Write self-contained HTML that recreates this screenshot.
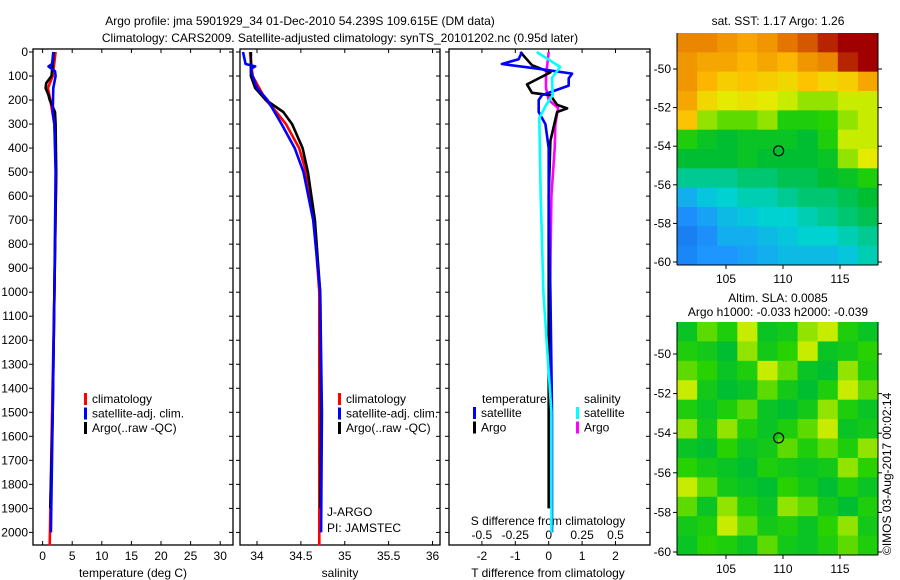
<!DOCTYPE html>
<html><head><meta charset="utf-8"><style>
body{margin:0;background:#fff}
svg{display:block;font-family:"Liberation Sans",sans-serif}
text{font-size:12px;fill:#000}
</style></head><body>
<svg id="c" width="900" height="580">
<text x="300" y="25" text-anchor="middle">Argo profile: jma 5901929_34 01-Dec-2010 54.239S 109.615E (DM data)</text>
<text x="340" y="42" text-anchor="middle">Climatology: CARS2009. Satellite-adjusted climatology: synTS_20101202.nc (0.95d later)</text>
<text x="778" y="25" text-anchor="middle">sat. SST: 1.17 Argo: 1.26</text>
<text x="778" y="302" text-anchor="middle">Altim. SLA: 0.0085</text>
<text x="778" y="316" text-anchor="middle">Argo h1000: -0.033 h2000: -0.039</text>
<text transform="translate(891,555) rotate(-90)">©IMOS 03-Aug-2017 00:02:14</text>
<g id="g"></g>
</svg>
<script>
// ---- data ----
const depthTicks=[0,100,200,300,400,500,600,700,800,900,1000,1100,1200,1300,1400,1500,1600,1700,1800,1900,2000];
const tempTicks=[0,5,10,15,20,25,30];
const salTicks=[34,34.5,35,35.5,36];
const tdTicks=[-2,-1,0,1,2];
const sdTicks=[-0.5,-0.25,0,0.25,0.5];
const tArgoD=[0,50,100,130,150,180,200,250,300,500,1000,1500,1900];
const tArgoV=[1.9,1.7,1.5,0.6,0.5,1.0,1.2,2.1,2.2,2.3,2.0,1.7,1.3];
const tClimD=[0,100,150,200,300,500,1000,1500,2055];
const tClimV=[2.2,1.7,0.9,1.3,2.0,2.3,2.0,1.6,1.2];
const tSatD=[0,50,60,80,100,150,250,300,500,1000,1500,2000];
const tSatV=[1.8,1.6,1.0,2.1,2.2,1.8,1.7,2.0,2.2,2.0,1.7,1.4];
const sArgoD=[0,100,150,200,250,300,400,500,700,900,1000,1500,1900];
const sArgoV=[33.93,33.93,33.98,34.10,34.30,34.40,34.52,34.58,34.66,34.70,34.72,34.73,34.72];
const sClimD=[0,100,200,250,300,400,500,700,1000,2055];
const sClimV=[33.92,33.95,34.10,34.22,34.33,34.48,34.56,34.65,34.71,34.71];
const sSatD=[0,50,60,70,100,150,200,300,400,500,700,1000,1500,2000];
const sSatV=[33.84,33.87,33.98,33.93,33.95,34.0,34.12,34.28,34.43,34.53,34.64,34.72,34.74,34.73];
const dtSatD=[0,30,50,70,90,110,140,160,180,200,250,300,400,600,1000,1500,2000];
const dtSatV=[-0.8,-0.9,-1.4,-0.3,0.7,0.6,0.6,0.2,-0.2,-0.3,-0.3,-0.1,0,0,0.05,0.1,0.1];
const dtArgoD=[0,55,85,135,170,180,220,235,250,280,370,600,1000,1500,1900];
const dtArgoV=[-0.85,-0.5,0.05,-0.65,-0.5,0.05,0.25,0.55,0.25,0.2,0.05,0,0,0,0];
const dsSatD=[0,62,108,179,221,275,600,1000,1500,2000];
const dsSatV=[-0.09,0.085,0.025,0.03,-0.02,-0.07,-0.06,-0.04,0.02,0.02];
const dsArgoD=[0,100,150,200,233,300,400,600,1000,1500,1900];
const dsArgoV=[0,-0.02,-0.02,0,0.07,0.05,0.045,0.02,0.01,0.01,0.01];
const sstGrid=[
[.82,.82,.80,.78,.80,.84,.88,.95,1,1],
[.80,.78,.78,.76,.78,.76,.80,.82,.95,1],
[.80,.76,.72,.74,.72,.70,.74,.70,.72,.78],
[.78,.70,.66,.68,.66,.64,.62,.62,.64,.64],
[.74,.62,.60,.60,.62,.56,.56,.58,.62,.64],
[.56,.52,.50,.52,.52,.52,.50,.56,.64,.64],
[.50,.50,.50,.52,.50,.50,.50,.52,.62,.66],
[.44,.44,.44,.46,.46,.48,.48,.50,.52,.56],
[.34,.38,.40,.42,.42,.44,.46,.46,.48,.50],
[.28,.32,.36,.38,.40,.40,.42,.44,.46,.48],
[.24,.28,.34,.34,.36,.38,.40,.40,.42,.44],
[.26,.30,.30,.32,.34,.36,.36,.36,.38,.42]];
const slaGrid=[
[.52,.60,.56,.64,.52,.54,.62,.64,.56,.52],
[.56,.54,.50,.62,.54,.58,.64,.52,.54,.58],
[.60,.58,.52,.56,.64,.60,.52,.50,.62,.56],
[.64,.54,.50,.52,.60,.54,.50,.56,.64,.60],
[.56,.52,.56,.60,.52,.50,.54,.62,.56,.52],
[.62,.54,.62,.56,.52,.56,.60,.64,.52,.54],
[.52,.50,.58,.52,.54,.60,.56,.60,.56,.62],
[.58,.54,.52,.50,.56,.54,.52,.54,.62,.58],
[.64,.60,.54,.52,.50,.58,.54,.50,.56,.52],
[.60,.52,.62,.56,.52,.62,.60,.54,.50,.56],
[.54,.56,.64,.60,.54,.56,.52,.58,.62,.54],
[.52,.58,.56,.52,.60,.54,.52,.56,.60,.56]];
const latTicks=[-50,-52,-54,-56,-58,-60];
const lonTicks=[105,110,115];
const floatLon=109.615, floatLat=-54.239;

// ---- drawing ----
const NS='http://www.w3.org/2000/svg', G=document.getElementById('g');
function mk(t,a,p){const e=document.createElementNS(NS,t);for(const k in a)e.setAttribute(k,a[k]);(p||G).appendChild(e);return e;}
const yD=d=>52+d*0.2402;
const xT=v=>42.6+v*5.92, xS=v=>257+(v-34)*87.75, xDT=v=>548.7+v*33.4, xDS=v=>548.7+v*133.6;
const P=[{x0:33,x1:233},{x0:240,x1:440},{x0:449,x1:650}];
const pTop=49,pBot=545;
P.forEach((p,i)=>{
  const r=mk('rect',{x:p.x0,y:pTop,width:p.x1-p.x0,height:pBot-pTop,fill:'none',stroke:'#000','stroke-width':1.3});
  
  
  depthTicks.forEach(d=>{const y=yD(d);
    mk('line',{x1:p.x0,x2:p.x0-4,y1:y,y2:y,stroke:'#000'});
    mk('line',{x1:p.x1,x2:p.x1-4,y1:y,y2:y,stroke:'#000'});});
});
depthTicks.forEach(d=>{const t=mk('text',{x:28,y:yD(d)+4,'text-anchor':'end'});t.textContent=d;
  });
function xticks(arr,f,y){arr.forEach(v=>{const x=f(v);
  mk('line',{x1:x,x2:x,y1:pBot,y2:pBot-4,stroke:'#000'});mk('line',{x1:x,x2:x,y1:pTop,y2:pTop+4,stroke:'#000'});
  const t=mk('text',{x:x,y:y,'text-anchor':'middle'});t.textContent=v;
  });}
xticks(tempTicks,xT,560);
xticks(salTicks,xS,560);
xticks(tdTicks,xDT,560);
sdTicks.forEach(v=>{const t=mk('text',{x:xDS(v),y:539,'text-anchor':'middle'});t.textContent=v;
  });
[['temperature (deg C)',133,'temp-axis-title'],['salinity',340,'salinity-axis-title'],['T difference from climatology',548,'tdiff-axis-title']].forEach(a=>{
  const t=mk('text',{x:a[1],y:577,'text-anchor':'middle'});t.textContent=a[0];});
{const t=mk('text',{x:548,y:525,'text-anchor':'middle'});t.textContent='S difference from climatology';
 }
function line(D,V,fx,col,name){const pts=D.map((d,i)=>fx(V[i]).toFixed(1)+','+yD(d).toFixed(1)).join(' ');
  const e=mk('polyline',{points:pts,fill:'none',stroke:col,'stroke-width':2.6,'stroke-linejoin':'round'});
  }
line(tClimD,tClimV,xT,'#f00','temp-climatology-line');
line(tArgoD,tArgoV,xT,'#000','temp-argo-line');
line(tSatD,tSatV,xT,'#00f','temp-satellite-line');
line(sClimD,sClimV,xS,'#f00','salinity-climatology-line');
line(sArgoD,sArgoV,xS,'#000','salinity-argo-line');
line(sSatD,sSatV,xS,'#00f','salinity-satellite-line');
line(dsArgoD,dsArgoV,xDS,'#f0f','sdiff-argo-line');
line(dtArgoD,dtArgoV,xDT,'#000','tdiff-argo-line');
line(dtSatD,dtSatV,xDT,'#00f','tdiff-satellite-line');
line(dsSatD,dsSatV,xDS,'#0ff','sdiff-satellite-line');
function legend(x,y,items,name){items.forEach((it,i)=>{
  mk('rect',{x:x,y:y+i*14.5-10,width:3,height:12,fill:it[1]});
  const t=mk('text',{x:x+8,y:y+i*14.5});t.textContent=it[0];
  });}
const L=[['climatology','#f00'],['satellite-adj. clim.','#00f'],['Argo(..raw -QC)','#000']];
legend(84,403,L,'temp-legend-entry');
legend(338,403,L,'salinity-legend-entry');
legend(473,417,[['satellite','#00f'],['Argo','#000']],'tdiff-legend-entry');
legend(576,417,[['satellite','#0ff'],['Argo','#f0f']],'sdiff-legend-entry');
[['temperature',482,403,'tdiff-legend-title'],['salinity',584,403,'sdiff-legend-title'],['J-ARGO',327,516,'pi-label'],['PI: JAMSTEC',327,532,'pi-label']].forEach(a=>{
  const t=mk('text',{x:a[1],y:a[2]});t.textContent=a[0];});
// maps
const stops=[[0,[0,40,190]],[.3,[30,150,255]],[.4,[0,210,210]],[.5,[0,190,50]],[.58,[40,210,0]],[.65,[225,240,0]],[.75,[255,190,0]],[.85,[225,110,0]],[1,[160,0,0]]];
function cmap(v){for(let i=1;i<stops.length;i++){if(v<=stops[i][0]){const a=stops[i-1],b=stops[i],t=(v-a[0])/(b[0]-a[0]);
  return 'rgb('+a[1].map((c,k)=>Math.round(c+(b[1][k]-c)*t)).join(',')+')';}}return 'rgb(160,0,0)';}
function map(grid,x0,y0,w,h,lat50y,latStep,name){
  const rows=grid.length,cols=grid[0].length,cw=w/cols,ch=h/rows;
  grid.forEach((row,r)=>row.forEach((v,c)=>{const e=mk('rect',{x:x0+c*cw,y:y0+r*ch,width:cw+0.5,height:ch+0.5,fill:cmap(v)});
    }));
  mk('line',{x1:x0,x2:x0+w,y1:y0+h,y2:y0+h,stroke:'#000'});
  mk('line',{x1:x0+w,x2:x0+w,y1:y0,y2:y0+h,stroke:'#000'});
  mk('line',{x1:x0,x2:x0,y1:y0,y2:y0+h,stroke:'#000'});
  const xL=v=>726+(v-105)*11.4, yL=v=>lat50y+(-50-v)*latStep;
  latTicks.forEach(v=>{const y=yL(v);mk('line',{x1:x0,x2:x0-4,y1:y,y2:y,stroke:'#000'});mk('line',{x1:x0+w,x2:x0+w+4,y1:y,y2:y,stroke:'#000'});
    const t=mk('text',{x:x0-6,y:y+4,'text-anchor':'end'});t.textContent=v;});
  lonTicks.forEach(v=>{const x=xL(v);mk('line',{x1:x,x2:x,y1:y0+h,y2:y0+h+4,stroke:'#000'});
    const t=mk('text',{x:x,y:y0+h+18,'text-anchor':'middle'});t.textContent=v;});
  const c=mk('circle',{cx:xL(floatLon),cy:yL(floatLat),r:5,fill:'none',stroke:'#000','stroke-width':1.2});
  
}
map(sstGrid,677,33,201,232,69,19.3,'sst-map');
map(slaGrid,677,322,201,233,354,19.8,'sla-map');
</script>
</body></html>
